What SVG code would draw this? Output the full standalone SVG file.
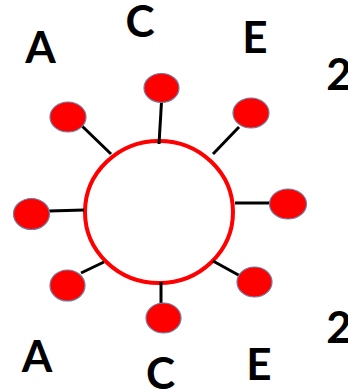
<svg xmlns="http://www.w3.org/2000/svg" width="348" height="391" viewBox="0 0 348 391">
<style>
.lbl{font-family:Lato,"Liberation Sans",sans-serif;font-weight:bold;font-size:44px;fill:#000;text-anchor:middle}
.dot{fill:#ff0000;stroke:#6b7fa3;stroke-width:1.2}
.ring{fill:#fff;stroke:#ff0000;stroke-width:4}
.edge{stroke:#000;stroke-width:3;stroke-linecap:butt;fill:none}
</style>
<rect width="348" height="391" fill="#fff"/>
<g id="hub"><ellipse class="ring" cx="159" cy="212" rx="74" ry="71"/></g>
<g id="connectors">
<line class="edge" x1="161.5" y1="102" x2="159" y2="144"/>
<line class="edge" x1="82" y1="126" x2="111" y2="154"/>
<line class="edge" x1="239" y1="127" x2="213" y2="154"/>
<line class="edge" x1="49" y1="211" x2="84" y2="210"/>
<line class="edge" x1="235" y1="203" x2="277" y2="203"/>
<line class="edge" x1="81" y1="273" x2="104" y2="262"/>
<line class="edge" x1="213" y1="261" x2="242" y2="277"/>
<line class="edge" x1="161" y1="282" x2="161" y2="303"/>
</g>
<g id="n-top"><ellipse class="dot" cx="161.5" cy="88" rx="17.5" ry="14.5"/></g>
<g id="n-upper-left"><ellipse class="dot" cx="68" cy="117" rx="18" ry="15"/></g>
<g id="n-upper-right"><ellipse class="dot" cx="251" cy="113" rx="18" ry="15"/></g>
<g id="n-left"><ellipse class="dot" cx="31.5" cy="214" rx="18" ry="15.5"/></g>
<g id="n-right"><ellipse class="dot" cx="288" cy="204" rx="18.5" ry="15"/></g>
<g id="n-lower-left"><ellipse class="dot" cx="67.5" cy="285.5" rx="17.5" ry="15.5"/></g>
<g id="n-lower-right"><ellipse class="dot" cx="254.5" cy="282" rx="17.5" ry="15"/></g>
<g id="n-bottom"><ellipse class="dot" cx="163.5" cy="318" rx="17.5" ry="15"/></g>
<g id="labels">
<text class="lbl" x="40.5" y="63">A</text>
<text class="lbl" x="140" y="37">C</text>
<text class="lbl" x="255" y="53">E</text>
<text class="lbl" x="339" y="90">2</text>
<text class="lbl" x="37" y="372">A</text>
<text class="lbl" x="160.5" y="389">C</text>
<text class="lbl" x="259" y="380">E</text>
<text class="lbl" x="339" y="343">2</text>
</g>
</svg>
